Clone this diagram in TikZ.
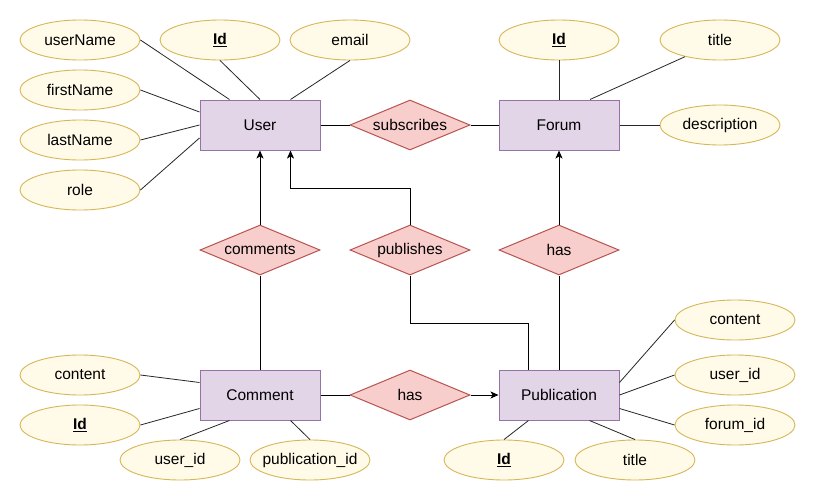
\documentclass[tikz,border=0pt]{standalone}
\usepackage{fontspec}
\setmainfont{Liberation Sans}
\usetikzlibrary{shapes.geometric,arrows.meta,calc}
\definecolor{attrfill}{HTML}{FFFBE8}
\definecolor{attrdraw}{HTML}{D6B656}
\definecolor{entfill}{HTML}{E1D5E7}
\definecolor{entdraw}{HTML}{9673A6}
\definecolor{relfill}{HTML}{F8CECC}
\definecolor{reldraw}{HTML}{B85450}
\tikzset{
  every node/.style={font=\fontsize{15.5}{18}\selectfont},
  attr/.style={ellipse, draw=attrdraw, fill=attrfill, line width=0.9pt, minimum width=120pt, minimum height=40pt, inner xsep=-12pt, inner ysep=0pt},
  entity/.style={rectangle, draw=entdraw, fill=entfill, line width=1pt, minimum width=120pt, minimum height=50pt, inner sep=0pt},
  rel/.style={diamond, aspect=2.4, draw=reldraw, fill=relfill, line width=1pt, minimum width=120pt, minimum height=50pt, inner sep=0pt},
  aline/.style={draw=black!85, line width=0.8pt},
  rline/.style={draw=black, line width=0.95pt},
  arr/.style={rline, -{Stealth[length=8pt,width=7pt,inset=2pt]}}
}
\newcommand{\keyattr}[1]{\textbf{\underline{#1}}}
\begin{document}
\begin{tikzpicture}[x=1pt,y=-1pt]
\useasboundingbox[fill=white] (0,0) rectangle (815,501);
% entities
\node[entity] (u) at (260,125) {User};
\node[entity] (f) at (559,125) {Forum};
\node[entity] (c) at (260,395) {Comment};
\node[entity] (p) at (559,395) {Publication};
% relationships
\node[rel] (subs) at (410,125) {subscribes};
\node[rel] (comm) at (260,250) {comments};
\node[rel] (pubs) at (410,250) {publishes};
\node[rel] (hasf) at (559,250) {has};
\node[rel] (hasp) at (410,395) {has};
% user attributes
\node[attr] (uname) at (80,40) {userName};
\node[attr] (uid) at (220,40) {\keyattr{Id}};
\node[attr] (uemail) at (350,40) {email};
\node[attr] (ufirst) at (80,90) {firstName};
\node[attr] (ulast) at (80,140) {lastName};
\node[attr] (urole) at (80,190) {role};
% forum attributes
\node[attr] (fid) at (559,40) {\keyattr{Id}};
\node[attr] (ftitle) at (720,40) {title};
\node[attr] (fdesc) at (720,125) {description};
% comment attributes
\node[attr] (ccontent) at (80,375) {content};
\node[attr] (cid) at (80,425) {\keyattr{Id}};
\node[attr] (cuser) at (180,460) {user\_id};
\node[attr] (cpub) at (310,460) {publication\_id};
% publication attributes
\node[attr] (pcontent) at (735,320) {content};
\node[attr] (puser) at (735,375) {user\_id};
\node[attr] (pforum) at (735,425) {forum\_id};
\node[attr] (pid) at (504,460) {\keyattr{Id}};
\node[attr] (ptitle) at (635,460) {title};
% attribute lines
\path[aline] (uname.east) -- ($(u.north west)+(30,0)$);
\path[aline] (uid.south) -- (u.north);
\path[aline] (uemail.south) -- ($(u.north east)+(-30,0)$);
\path[aline] (ufirst.east) -- ($(u.north west)+(0,12.5)$);
\path[aline] (ulast.east) -- (u.west);
\path[aline] (urole.east) -- ($(u.south west)+(0,-12.5)$);
\path[aline] (fid.south) -- (f.north);
\path[aline] ($(ftitle.center)+(-35,16.7)$) -- ($(f.north)+(31,0)$);
\path[aline] (f.east) -- (fdesc.west);
\path[aline] (ccontent.east) -- ($(c.north west)+(0,13)$);
\path[aline] (cid.east) -- ($(c.south west)+(0,-12)$);
\path[aline] (cuser.north) -- ($(c.south west)+(30,0)$);
\path[aline] (cpub.north) -- ($(c.south east)+(-30,0)$);
\path[aline] (pcontent.west) -- ($(p.north east)+(0,13)$);
\path[aline] (puser.west) -- (p.east);
\path[aline] (pforum.west) -- ($(p.south east)+(0,-12)$);
\path[aline] (pid.north) -- ($(p.south west)+(30,0)$);
\path[aline] (ptitle.north) -- ($(p.south east)+(-30,0)$);
% relationship lines
\path[rline] (u.east) -- (subs.west);
\path[rline] (subs.east) -- (f.west);
\path[rline] (c.north) -- (comm.south);
\path[arr] (comm.north) -- (u.south);
\coordinate (k1) at (410,188);
\path[arr] (pubs.north) -- (k1) -| ($(u.south east)+(-30,0)$);
\coordinate (k2) at (410,323);
\path[rline] (pubs.south) -- (k2) -| ($(p.north west)+(30,0)$);
\path[rline] (p.north) -- (hasf.south);
\path[arr] (hasf.north) -- (f.south);
\path[rline] (c.east) -- (hasp.west);
\path[arr] (hasp.east) -- (p.west);
\end{tikzpicture}
\end{document}
